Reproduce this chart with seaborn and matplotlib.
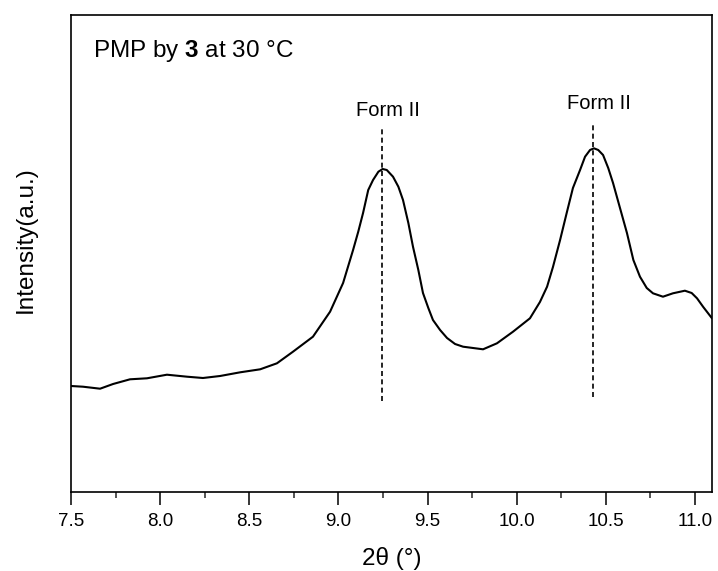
import matplotlib
matplotlib.use('Agg')
import numpy as np
import pandas as pd
import matplotlib.pyplot as plt
import seaborn as sns
from matplotlib.ticker import MultipleLocator

## 2theta (deg) and intensity (a.u.)
two_theta = [7.500, 7.567, 7.663, 7.736, 7.831, 7.926, 8.038, 8.151, 8.240,
             8.336, 8.449, 8.561, 8.655, 8.745, 8.857, 8.953, 9.026, 9.082,
             9.111, 9.138, 9.167, 9.194, 9.224, 9.248, 9.271, 9.306, 9.336,
             9.362, 9.392, 9.418, 9.448, 9.474, 9.504, 9.530, 9.570, 9.609,
             9.654, 9.699, 9.811, 9.889, 9.979, 10.074, 10.130, 10.170,
             10.203, 10.243, 10.280, 10.315, 10.355, 10.383, 10.411, 10.433,
             10.457, 10.484, 10.513, 10.540, 10.579, 10.618, 10.654, 10.691,
             10.729, 10.764, 10.820, 10.876, 10.943, 10.981, 11.011, 11.046,
             11.095]
intensity = [106.0, 105.3, 103.3, 108.0, 112.7, 113.7, 117.3, 115.3, 114.0,
             116.0, 119.7, 122.7, 128.7, 140.3, 155.3, 180.3, 209.0, 242.0,
             260.3, 279.0, 302.0, 312.0, 320.3, 323.0, 322.0, 315.3, 305.3,
             292.0, 269.0, 245.3, 222.0, 199.0, 184.0, 172.0, 162.0, 154.0,
             148.0, 145.3, 142.7, 148.7, 160.3, 173.7, 190.0, 205.3,
             225.0, 252.0, 279.0, 304.0, 322.0, 335.3, 342.0, 343.7,
             342.0, 337.0, 324.0, 309.0, 284.0, 259.0, 232.0, 215.3,
             204.0, 198.7, 195.3, 198.7, 201.3, 199.0, 193.7, 185.0,
             173.7]

## marked peaks
peak_pos = [9.245, 10.43]
peak_lo = [91, 95]
peak_hi = [364, 369]
peak_label = ['Form II', 'Form II']
label_x = [9.28, 10.46]
label_y = [376, 383]

################################################
def main():
  sns.set_theme(style='ticks')
  plt.rcParams['font.family'] = ['Liberation Sans', 'DejaVu Sans']
  plt.rcParams['mathtext.fontset'] = 'custom'
  plt.rcParams['mathtext.rm'] = 'Liberation Sans'
  plt.rcParams['mathtext.bf'] = 'Liberation Sans:bold'

  df = pd.DataFrame({'2theta': two_theta, 'I': intensity})

  fig = plt.figure(figsize=(7.18, 5.71), dpi=100)
  ax = fig.add_axes([71/718, 1-492/571, 641/718, 477/571])

  sns.lineplot(data=df, x='2theta', y='I', color='black', lw=1.5,
               sort=False, ax=ax)

  for i, p in enumerate(peak_pos):
    ax.vlines(p, peak_lo[i], peak_hi[i], colors='black', linestyles=(0, (3, 2)),
              lw=1.2)
    ax.text(label_x[i], label_y[i], peak_label[i], ha='center', va='baseline',
            fontsize=14.5, color='black')

  ax.text(0.034, 0.912, r'PMP by $\mathbf{3}$ at 30 °C', transform=ax.transAxes,
          fontsize=17.5, ha='left', va='baseline', color='black')

  ax.set_xlim(7.5, 11.095)
  ax.set_ylim(0, 477)
  ax.xaxis.set_major_locator(MultipleLocator(0.5))
  ax.xaxis.set_minor_locator(MultipleLocator(0.25))
  ax.xaxis.set_major_formatter(matplotlib.ticker.FormatStrFormatter('%.1f'))
  ax.set_yticks([])
  ax.tick_params(axis='x', which='major', direction='out', length=9, width=1.1,
                 labelsize=13.5, pad=6, colors='black')
  ax.tick_params(axis='x', which='minor', direction='out', length=4.5, width=1.1)
  for s in ax.spines.values():
    s.set_linewidth(1.2)
    s.set_color('black')

  ax.set_xlabel('2θ (°)', fontsize=17.5, labelpad=12, color='black')
  ax.set_ylabel('Intensity(a.u.)', fontsize=17.5, color='black')
  ax.yaxis.set_label_coords(-0.053, 0.53)

  plt.savefig('out.png', dpi=100)
  plt.clf()

######################################################################
if __name__ == '__main__':
  main()
